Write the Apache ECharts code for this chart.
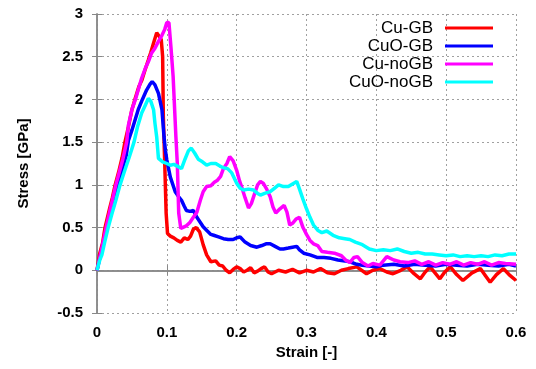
<!DOCTYPE html>
<html>
<head>
<meta charset="utf-8">
<script src="https://cdn.jsdelivr.net/npm/echarts@6/dist/echarts.min.js"></script>
<style>html,body{margin:0;padding:0;background:#fff}#c{width:536px;height:369px}</style>
</head>
<body>
<div id="c"></div>
<script>
const seriesNames = ['Cu-GB', 'CuO-GB', 'Cu-noGB', 'CuO-noGB'];
const xTicks = [0, 0.1, 0.2, 0.3, 0.4, 0.5, 0.6];
const yTicks = [-0.5, 0, 0.5, 1, 1.5, 2, 2.5, 3];

const cuGB = [[0,0],[0.004,0.2],[0.008,0.32],[0.0115,0.5],[0.018,0.72],[0.022,0.85],[0.026,1.0],[0.031,1.15],[0.036,1.32],[0.04,1.5],[0.045,1.68],[0.05,1.88],[0.055,2.02],[0.06,2.15],[0.064,2.22],[0.069,2.35],[0.0735,2.46],[0.077,2.55],[0.081,2.66],[0.0855,2.78],[0.089,2.74],[0.092,2.7],[0.094,2.5],[0.095,1.8],[0.097,1.25],[0.099,0.67],[0.101,0.43],[0.105,0.4],[0.11,0.38],[0.115,0.35],[0.12,0.33],[0.125,0.38],[0.13,0.36],[0.134,0.4],[0.138,0.48],[0.142,0.5],[0.147,0.45],[0.152,0.3],[0.157,0.18],[0.163,0.1],[0.17,0.11],[0.175,0.06],[0.18,0.05],[0.185,0.0],[0.19,-0.03],[0.195,0.01],[0.2,0.04],[0.205,0.02],[0.21,-0.02],[0.215,0.0],[0.22,0.03],[0.225,-0.03],[0.23,-0.01],[0.235,0.02],[0.24,0.04],[0.245,-0.02],[0.25,-0.04],[0.26,0.0],[0.27,-0.02],[0.28,0.01],[0.29,-0.03],[0.3,0.0],[0.31,-0.02],[0.32,0.02],[0.33,-0.03],[0.34,-0.04],[0.35,0.0],[0.36,0.02],[0.372,0.04],[0.386,-0.04],[0.395,0.0],[0.405,0.02],[0.415,-0.02],[0.424,-0.04],[0.435,0.0],[0.444,0.04],[0.454,-0.04],[0.463,-0.1],[0.47,-0.02],[0.477,0.04],[0.484,-0.03],[0.491,-0.1],[0.498,-0.02],[0.506,0.04],[0.515,-0.05],[0.524,-0.12],[0.537,-0.03],[0.549,0.02],[0.556,-0.06],[0.563,-0.14],[0.572,-0.05],[0.582,0.02],[0.59,-0.05],[0.6,-0.12]];

const cuoGB = [[0,0],[0.005,0.18],[0.01,0.35],[0.014,0.5],[0.02,0.7],[0.025,0.85],[0.03,1.0],[0.036,1.18],[0.042,1.35],[0.045,1.52],[0.05,1.64],[0.059,1.88],[0.065,2.0],[0.071,2.11],[0.076,2.18],[0.079,2.21],[0.083,2.17],[0.088,2.07],[0.093,1.88],[0.096,1.56],[0.098,1.4],[0.1,1.29],[0.105,1.09],[0.112,0.92],[0.117,0.86],[0.121,0.82],[0.125,0.75],[0.128,0.7],[0.133,0.69],[0.138,0.7],[0.143,0.62],[0.148,0.56],[0.152,0.51],[0.158,0.46],[0.163,0.42],[0.167,0.41],[0.174,0.39],[0.181,0.37],[0.188,0.36],[0.195,0.36],[0.2,0.38],[0.205,0.39],[0.212,0.33],[0.22,0.29],[0.229,0.27],[0.236,0.29],[0.242,0.31],[0.248,0.31],[0.255,0.28],[0.262,0.25],[0.267,0.25],[0.274,0.26],[0.28,0.27],[0.286,0.28],[0.29,0.24],[0.296,0.2],[0.305,0.18],[0.315,0.15],[0.325,0.15],[0.335,0.14],[0.345,0.12],[0.355,0.11],[0.362,0.1],[0.372,0.07],[0.38,0.06],[0.39,0.05],[0.4,0.04],[0.41,0.06],[0.425,0.07],[0.44,0.05],[0.455,0.07],[0.47,0.06],[0.485,0.05],[0.5,0.07],[0.515,0.06],[0.53,0.05],[0.545,0.07],[0.56,0.06],[0.575,0.05],[0.59,0.07],[0.6,0.05]];

const cuNoGB = [[0,0],[0.004,0.15],[0.008,0.3],[0.013,0.5],[0.018,0.68],[0.022,0.82],[0.027,1.0],[0.032,1.15],[0.037,1.3],[0.0425,1.5],[0.045,1.7],[0.05,1.88],[0.055,2.0],[0.059,2.11],[0.064,2.25],[0.07,2.38],[0.074,2.45],[0.078,2.54],[0.083,2.6],[0.088,2.68],[0.093,2.75],[0.097,2.82],[0.1,2.9],[0.103,2.9],[0.106,2.6],[0.109,2.27],[0.113,1.56],[0.115,1.25],[0.117,0.67],[0.12,0.49],[0.128,0.52],[0.133,0.56],[0.138,0.62],[0.143,0.68],[0.148,0.82],[0.152,0.92],[0.157,0.98],[0.163,0.99],[0.168,1.03],[0.172,1.05],[0.177,1.1],[0.181,1.19],[0.186,1.25],[0.19,1.33],[0.195,1.28],[0.2,1.17],[0.204,1.05],[0.207,0.98],[0.212,0.85],[0.217,0.73],[0.221,0.78],[0.225,0.88],[0.23,1.0],[0.234,1.04],[0.238,1.02],[0.243,0.95],[0.248,0.86],[0.252,0.74],[0.256,0.67],[0.262,0.72],[0.268,0.76],[0.272,0.68],[0.276,0.53],[0.28,0.55],[0.285,0.6],[0.29,0.62],[0.295,0.5],[0.3,0.42],[0.305,0.35],[0.31,0.31],[0.316,0.29],[0.322,0.22],[0.33,0.21],[0.34,0.2],[0.35,0.17],[0.356,0.12],[0.362,0.09],[0.368,0.15],[0.373,0.16],[0.38,0.09],[0.388,0.05],[0.395,0.08],[0.405,0.06],[0.415,0.16],[0.425,0.12],[0.434,0.1],[0.445,0.09],[0.455,0.11],[0.465,0.07],[0.475,0.1],[0.485,0.06],[0.495,0.09],[0.505,0.07],[0.515,0.1],[0.525,0.06],[0.535,0.09],[0.545,0.07],[0.555,0.1],[0.565,0.06],[0.575,0.09],[0.585,0.08],[0.6,0.07]];

const cuoNoGB = [[0,0],[0.004,0.12],[0.007,0.18],[0.011,0.33],[0.016,0.5],[0.021,0.65],[0.027,0.82],[0.033,1.0],[0.039,1.15],[0.046,1.32],[0.053,1.5],[0.058,1.68],[0.064,1.84],[0.069,1.93],[0.0735,2.01],[0.077,1.98],[0.081,1.88],[0.083,1.72],[0.0855,1.56],[0.087,1.41],[0.088,1.31],[0.094,1.27],[0.1,1.25],[0.105,1.23],[0.11,1.24],[0.117,1.21],[0.121,1.19],[0.126,1.3],[0.131,1.4],[0.135,1.43],[0.14,1.37],[0.145,1.3],[0.151,1.27],[0.157,1.23],[0.163,1.25],[0.17,1.25],[0.176,1.22],[0.181,1.2],[0.187,1.19],[0.193,1.14],[0.2,1.02],[0.205,0.96],[0.21,0.94],[0.217,0.95],[0.224,0.94],[0.23,0.9],[0.234,0.88],[0.24,0.9],[0.248,0.92],[0.254,0.96],[0.26,1.0],[0.267,0.98],[0.274,0.98],[0.28,1.01],[0.286,1.04],[0.29,0.95],[0.295,0.83],[0.3,0.72],[0.305,0.62],[0.31,0.53],[0.316,0.47],[0.322,0.44],[0.329,0.46],[0.338,0.41],[0.347,0.38],[0.355,0.37],[0.362,0.36],[0.37,0.33],[0.38,0.3],[0.39,0.25],[0.4,0.23],[0.41,0.24],[0.42,0.23],[0.43,0.25],[0.44,0.22],[0.45,0.2],[0.46,0.21],[0.47,0.19],[0.48,0.19],[0.49,0.18],[0.5,0.17],[0.51,0.18],[0.52,0.16],[0.53,0.17],[0.54,0.16],[0.55,0.17],[0.56,0.16],[0.57,0.18],[0.58,0.17],[0.59,0.19],[0.6,0.19]];

const seriesData = [cuGB, cuoGB, cuNoGB, cuoNoGB];
const colors = ['#ff0000', '#0000ff', '#ff00ff', '#00ffff'];

const chart = echarts.init(document.getElementById('c'), null, {renderer: 'canvas'});
const FONT = '"Liberation Sans", Arial, sans-serif';
const gridLine = {show: true, lineStyle: {color: '#a0a0a0', width: 1, type: [2, 3]}};
const axisBase = {
  axisLine: {show: true, lineStyle: {color: '#888', width: 1.5}},
  axisTick: {show: true, inside: true, length: 5, lineStyle: {color: '#888'}},
};
chart.setOption({
  animation: false,
  backgroundColor: '#fff',
  grid: {left: 97, right: 20, top: 14, bottom: 56, show: false},
  legend: {
    orient: 'vertical', right: 43, top: 19, align: 'right', padding: 0,
    icon: 'rect', itemWidth: 48, itemHeight: 3, itemGap: 0,
    data: seriesNames,
    textStyle: {fontFamily: FONT, fontSize: 17, lineHeight: 18, color: '#000', padding: [0, 7, 0, 0]}
  },
  xAxis: [{
    type: 'value', min: xTicks[0], max: xTicks[xTicks.length - 1], interval: 0.1,
    name: 'Strain [-]', nameLocation: 'middle', nameGap: 31,
    nameTextStyle: {fontFamily: FONT, fontSize: 15, fontWeight: 'bold', color: '#000'},
    axisLabel: {fontFamily: FONT, fontSize: 15, fontWeight: 'bold', color: '#000', margin: 12},
    splitLine: gridLine, ...axisBase
  }, {
    type: 'value', position: 'top', min: 0, max: 0.6, interval: 0.1,
    axisLabel: {show: false}, splitLine: {show: false}, ...axisBase
  }],
  yAxis: [{
    type: 'value', min: yTicks[0], max: yTicks[yTicks.length - 1], interval: 0.5,
    name: 'Stress [GPa]', nameLocation: 'middle', nameGap: 66,
    nameTextStyle: {fontFamily: FONT, fontSize: 15, fontWeight: 'bold', color: '#000'},
    axisLabel: {fontFamily: FONT, fontSize: 15, fontWeight: 'bold', color: '#000', margin: 14},
    splitLine: gridLine, ...axisBase
  }, {
    type: 'value', position: 'right', min: -0.5, max: 3, interval: 0.5,
    axisLabel: {show: false}, splitLine: {show: false}, ...axisBase
  }],
  series: seriesNames.map((n, i) => ({
    name: n, type: 'line', data: seriesData[i], showSymbol: false, symbol: 'none',
    lineStyle: {color: colors[i], width: 3.5}, itemStyle: {color: colors[i]},
    xAxisIndex: 0, yAxisIndex: 0, z: 2 + i
  }))
});
</script>
</body>
</html>
